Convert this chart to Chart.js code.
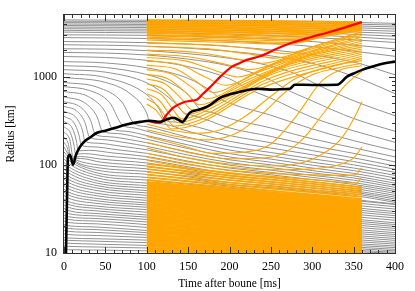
<!DOCTYPE html>
<html>
<head>
<meta charset="utf-8">
<script src="https://cdn.jsdelivr.net/npm/chart.js@4.4.1/dist/chart.umd.min.js"></script>
<style>
  body { margin: 0; background: #fff; }
  canvas { display: block; }
</style>
</head>
<body>
<canvas id="chart" width="415" height="291"></canvas>
<script>
// ---- axes ----
const xRange = [0, 400];
const xMajorStep = 50;
const xMinorStep = 10;
const yRange = [10, 5000];
const yTickValues = [10, 100, 1000];
const yMinorTicks = [20, 30, 40, 50, 60, 70, 80, 90, 200, 300, 400, 500, 600, 700, 800, 900, 2000, 3000, 4000];

// ---- shock radius (black) and outer shock (red) ----
const shockTimes = [2.4, 3.6, 4.8, 7.3, 10.9, 14.5, 19.3, 25, 31, 40, 50, 62, 74, 92, 104, 116, 125, 132, 138, 143, 152, 162, 173, 189, 200, 213, 233, 249, 262, 273, 279, 300, 330, 342, 350, 361, 373, 385, 400];
const shockRadius = [10, 40, 120, 130, 100, 130, 160, 185, 203, 231, 244, 263, 284, 307, 316, 307, 330, 342, 325, 307, 390, 420, 456, 577, 630, 675, 730, 712, 720, 730, 810, 805, 810, 1000, 1085, 1200, 1300, 1400, 1480];
const redTimes = [100, 108, 116, 124, 132, 144, 152, 161, 168, 176, 189, 203, 212, 221, 237, 257, 277, 298, 318, 340, 360];
const redRadius = [316, 305, 300, 370, 445, 510, 530, 550, 640, 750, 1000, 1300, 1420, 1550, 1700, 2070, 2450, 2800, 3150, 3620, 4150];

// ---- gray mass shells: outer group (times / radii columns) ----
const grayTopTimes = [0, 200, 300, 400];
const grayTopR0 = [3200, 3350, 3500, 3650, 3800, 3950, 4100, 4250, 4400];
const grayTopR200 = [3035, 3200, 3360, 3520, 3680, 3835, 3995, 4150, 4310];
const grayTopR300 = [2785, 2980, 3157, 3336, 3515, 3700, 3870, 4040, 4205];
const grayTopR400 = [2440, 2650, 2870, 3080, 3275, 3470, 3660, 3840, 4020];

// ---- gray mass shells: dense inner band ----
const grayBandTimes = [0, 5, 40, 100, 250, 400];
const grayBandR0 = [11, 12, 13, 14, 15, 16.5, 18, 19.5, 21, 23, 25, 27, 29.5, 32, 35, 38, 41, 45, 49, 53, 58, 63, 69, 75, 82, 90, 98, 107, 117, 128];
const grayBandR5 = [10.9, 11.9, 12.9, 13.9, 14.8, 16.2, 17.6, 19, 20.4, 22.2, 24, 25.8, 28, 30.3, 33, 35.7, 38.4, 42, 45.6, 49.2, 53.6, 58, 63.3, 68.6, 74.6, 81.5, 88.5, 96, 104.5, 114];
const grayBandR40 = [10.8, 11.7, 12.6, 13.6, 14.5, 15.8, 17.1, 18.4, 19.7, 21.4, 23, 24.6, 26.3, 28, 30, 32, 34, 36.5, 39, 41.5, 44.5, 47.5, 51, 54.5, 58, 62, 66, 71, 76, 81];
const grayBandR100 = [10.6, 11.4, 12.2, 13.1, 14, 15, 16, 17, 18, 19.5, 21, 22.5, 24, 25.5, 27, 29, 31, 33, 35, 37, 39.5, 42, 45, 48, 51, 54.5, 58, 62, 67, 72];
const grayBandR250 = [9.8, 10.3, 10.8, 11.4, 11.95, 12.6, 13.3, 14, 14.7, 15.7, 16.6, 17.7, 18.7, 19.8, 20.9, 22.2, 23.6, 25, 26.5, 27.9, 29.5, 31.4, 33.5, 35.7, 37.8, 40.1, 42.7, 45.6, 48.8, 50.9];
const grayBandR400 = [9, 9.3, 9.6, 9.9, 10.2, 10.6, 11, 11.5, 12, 12.6, 13.2, 13.9, 14.6, 15.4, 16.2, 17, 18, 19, 20, 21, 22, 23.5, 25, 26.5, 28, 29.5, 31.5, 33.5, 35.5, 36];

// ---- gray mass shells falling through the shock: [time ms, radius km] ----
const grayShells = [
  [[0, 140], [5, 124], [15, 104], [40, 87], [100, 78], [150, 69], [200, 60], [250, 55], [300, 50], [350, 45], [400, 37.5]],
  [[0, 160], [5.5, 130], [15, 108], [40, 93], [100, 84], [150, 73], [200, 63], [250, 58], [300, 52], [350, 47], [400, 39]],
  [[0, 180], [4, 156], [6, 130], [15, 113], [40, 100], [100, 90], [150, 78], [200, 67], [250, 61], [300, 55], [350, 49], [400, 41]],
  [[0, 205], [5, 176], [8.5, 120], [20, 118], [45, 107], [100, 97], [150, 83], [200, 71], [250, 64], [300, 58], [350, 51], [400, 43]],
  [[0, 235], [7, 193], [11, 122], [20, 124], [45, 116], [100, 105], [150, 89], [200, 75], [250, 68], [300, 61], [350, 54], [400, 45]],
  [[0, 270], [8, 228], [12, 168], [14, 132], [25, 134], [50, 126], [100, 114], [150, 95], [200, 80], [250, 72], [300, 64], [350, 57], [400, 47.5]],
  [[0, 310], [10, 260], [15, 186], [17, 144], [30, 146], [60, 136], [100, 124], [150, 102], [200, 86], [250, 77], [300, 68], [350, 60], [400, 50]],
  [[0, 355], [12, 300], [18, 220], [21, 166], [35, 160], [65, 148], [100, 135], [150, 110], [200, 92], [250, 82], [300, 72], [350, 63], [400, 52.5]],
  [[0, 405], [15, 340], [22, 251], [25.5, 184], [40, 176], [70, 162], [100, 148], [150, 119], [200, 99], [250, 87], [300, 76], [350, 67], [400, 55.5]],
  [[0, 460], [15, 410], [25, 308], [31, 205], [45, 194], [75, 178], [100, 162], [150, 129], [200, 106], [250, 93], [300, 81], [350, 71], [400, 58.5]],
  [[0, 520], [20, 450], [32, 322], [38, 220], [55, 208], [80, 193], [100, 178], [150, 140], [200, 114], [250, 100], [300, 86], [350, 75], [400, 62]],
  [[0, 590], [25, 505], [40, 350], [46.5, 240], [65, 226], [85, 210], [100, 195], [150, 153], [200, 123], [250, 107], [300, 92], [350, 80], [400, 66]],
  [[0, 680], [30, 590], [50, 395], [58.5, 256], [75, 240], [100, 215], [150, 168], [200, 134], [250, 116], [300, 99], [350, 86], [400, 71]],
  [[0, 770], [30, 700], [55, 510], [71, 280], [85, 262], [100, 240], [150, 185], [200, 147], [250, 126], [300, 107], [350, 92], [400, 76]],
  [[0, 860], [40, 760], [70, 515], [85, 292], [100, 270], [150, 205], [200, 162], [250, 138], [300, 117], [350, 100], [400, 82]],
  [[0, 980], [50, 860], [80, 640], [100, 385], [103, 315], [120, 290], [150, 240], [200, 185], [250, 155], [300, 130], [350, 109], [400, 89]],
  [[0, 1080], [50, 980], [100, 625], [115, 430], [122, 322], [135, 305], [150, 285], [200, 215], [250, 178], [300, 145], [350, 120], [400, 97]],
  [[0, 1200], [50, 1125], [100, 850], [130, 545], [145, 390], [152, 372], [170, 330], [200, 262], [250, 210], [300, 165], [350, 135], [400, 108]],
  [[0, 1330], [50, 1270], [100, 1055], [130, 835], [150, 625], [164, 430], [180, 390], [200, 335], [250, 262], [300, 197], [350, 156], [400, 123]],
  [[0, 1480], [50, 1430], [100, 1260], [150, 955], [180, 660], [188, 565], [200, 500], [250, 365], [300, 255], [350, 188], [400, 145]],
  [[0, 1690], [50, 1650], [100, 1530], [150, 1300], [200, 945], [220, 745], [226, 700], [250, 570], [300, 345], [350, 243], [400, 180]],
  [[0, 1880], [50, 1850], [100, 1760], [150, 1580], [200, 1315], [250, 912], [266, 740], [300, 530], [350, 335], [400, 240]],
  [[0, 2070], [50, 2050], [100, 1970], [200, 1615], [250, 1315], [280, 1075], [306, 810], [330, 640], [360, 490], [400, 360]],
  [[0, 2300], [100, 2215], [200, 1940], [250, 1720], [300, 1415], [346, 1040], [370, 850], [400, 640]],
  [[0, 2500], [100, 2430], [200, 2200], [300, 1775], [350, 1460], [370, 1300], [385, 1160], [400, 1050]],
  [[0, 2770], [100, 2710], [200, 2530], [300, 2200], [400, 1700]],
  [[0, 2980], [100, 2940], [200, 2790], [300, 2500], [400, 2060]]
];

// ---- orange tracers (start at 100 ms) ----
const orangeTop = [
  [[100, 4400], [200, 4340], [300, 4260], [360, 4200]],
  [[100, 4320], [200, 4250], [300, 4160], [355, 4090], [360, 4140]],
  [[100, 4250], [200, 4170], [300, 4060], [348, 3990], [360, 4120]],
  [[100, 4170], [200, 4090], [300, 3975], [350, 3890], [360, 4100]],
  [[100, 4100], [200, 4010], [300, 3890], [345, 3790], [360, 4080]],
  [[100, 4020], [200, 3930], [300, 3805], [343, 3705], [360, 4055]],
  [[100, 3950], [200, 3850], [300, 3720], [340, 3620], [360, 4030]],
  [[100, 3870], [200, 3770], [300, 3635], [337, 3550], [360, 4005]],
  [[100, 3800], [200, 3690], [300, 3550], [334, 3480], [360, 3980]],
  [[100, 3720], [200, 3610], [300, 3465], [331, 3405], [360, 3950]],
  [[100, 3650], [200, 3530], [300, 3380], [327, 3330], [360, 3920]],
  [[100, 3570], [200, 3455], [300, 3300], [324, 3255], [360, 3885]],
  [[100, 3500], [200, 3380], [300, 3220], [321, 3180], [360, 3850]],
  [[100, 3420], [200, 3300], [300, 3140], [317, 3110], [360, 3810]],
  [[100, 3350], [200, 3220], [300, 3060], [314, 3040], [360, 3770]],
  [[100, 3270], [200, 3140], [300, 2975], [310, 2960], [340, 3400], [360, 3725]],
  [[100, 3200], [200, 3060], [306, 2890], [335, 3280], [360, 3680]],
  [[100, 3100], [200, 2960], [301, 2805], [332, 3220], [360, 3630]],
  [[100, 3000], [200, 2860], [296, 2720], [330, 3150], [360, 3580]],
  [[100, 2900], [200, 2755], [290, 2625], [325, 3080], [360, 3525]],
  [[100, 2800], [200, 2650], [283, 2530], [320, 3000], [360, 3470]],
  [[100, 2700], [200, 2545], [277, 2435], [318, 2930], [360, 3410]],
  [[100, 2600], [200, 2440], [271, 2340], [315, 2850], [360, 3350]]
];
const orangeInfall = [
  [[100, 2400], [180, 2280], [240, 2000], [268, 1820], [310, 2350], [360, 3220]],
  [[100, 2200], [170, 2080], [225, 1800], [255, 1620], [300, 2150], [360, 3080]],
  [[100, 2000], [160, 1880], [210, 1580], [240, 1420], [290, 1950], [360, 2940]],
  [[100, 1800], [150, 1680], [195, 1380], [225, 1200], [280, 1750], [360, 2800]],
  [[100, 1650], [145, 1520], [180, 1200], [210, 990], [260, 1480], [320, 2150], [360, 2660]],
  [[100, 1500], [140, 1370], [170, 1000], [195, 800], [250, 1330], [310, 1950], [360, 2520]],
  [[100, 1350], [135, 1220], [160, 880], [180, 660], [230, 1080], [300, 1800], [360, 2390]],
  [[100, 1200], [130, 1070], [155, 750], [172, 560], [220, 900], [290, 1650], [360, 2270]],
  [[100, 1060], [125, 950], [148, 650], [163, 480], [210, 760], [280, 1500], [360, 2160]],
  [[100, 940], [122, 830], [142, 560], [155, 420], [200, 640], [270, 1350], [360, 2060]],
  [[100, 830], [120, 720], [137, 480], [148, 370], [190, 540], [260, 1200], [360, 1970]],
  [[100, 730], [118, 620], [132, 420], [142, 330], [180, 450], [250, 1050], [360, 1880]],
  [[100, 640], [115, 540], [127, 380], [137, 300], [175, 390], [245, 930], [360, 1790]],
  [[100, 560], [113, 470], [124, 340], [133, 275], [170, 340], [240, 820], [360, 1700]],
  [[100, 490], [112, 410], [122, 300], [130, 255], [165, 300], [235, 720], [360, 1610]]
];
const orangeRisers = [
  [[100, 290], [130, 247], [160, 228], [190, 252], [220, 360], [250, 600], [280, 950], [320, 1300], [360, 1520]],
  [[100, 250], [140, 207], [175, 192], [210, 232], [240, 380], [270, 700], [300, 1050], [330, 1250], [360, 1420]],
  [[100, 210], [140, 168], [180, 135], [220, 140], [250, 172], [280, 350], [312, 900], [335, 1200], [360, 1330]],
  [[100, 180], [150, 138], [200, 117], [250, 122], [285, 182], [315, 400], [340, 800], [360, 1150]],
  [[100, 155], [150, 120], [200, 102], [250, 97], [300, 116], [334, 193], [350, 330], [360, 520]],
  [[100, 135], [150, 108], [200, 94], [250, 88], [300, 90], [335, 102], [352, 125], [360, 160]],
  [[100, 122], [150, 100], [200, 87], [250, 80], [300, 77], [340, 76], [354, 78], [357, 88], [360, 92]],
  [[100, 112], [150, 92], [200, 80], [250, 74], [300, 68], [340, 63], [354, 62], [357, 68], [360, 72]]
];
const orangeBandTimes = [100, 230, 360];
const orangeBandStart = [10.5, 11.2, 12, 12.8, 13.7, 14.6, 15.6, 16.7, 17.8, 19, 20.3, 21.7, 23.2, 24.8, 26.5, 28.3, 30.2, 32.3, 34.5, 36.9, 39.4, 42, 45, 48, 51.5, 55, 59, 63, 67.5, 72, 77, 83, 89, 95, 102];
const orangeBandMid = [10.04, 10.6, 11.3, 12, 12.8, 13.5, 14.35, 15.2, 16.1, 17.1, 18.1, 19.3, 20.4, 21.7, 23, 24.4, 25.8, 27.4, 29.1, 30.9, 32.7, 34.7, 36.8, 39, 41.5, 44, 46.8, 49.6, 52.7, 55.9, 59.3, 63.2, 67.1, 71.1, 75.4];
const orangeBandEnd = [9.6, 10.1, 10.7, 11.3, 11.9, 12.5, 13.2, 13.9, 14.6, 15.4, 16.2, 17.1, 18, 19, 20, 21, 22.1, 23.3, 24.5, 25.8, 27.2, 28.6, 30.1, 31.7, 33.4, 35.2, 37.1, 39.1, 41.2, 43.4, 45.7, 48.1, 50.6, 53.2, 55.8];

// ---- build datasets ----
const GRAY = 'rgb(145,145,145)';
const ORANGE = 'rgb(255,165,0)';

const toPoints = list => list.map(([x, y]) => ({ x, y }));
const fromColumns = (times, cols) =>
  cols[0].map((_, i) => times.map((t, k) => ({ x: t, y: cols[k][i] })));
const line = (data, color, width, order) => ({
  data, borderColor: color, borderWidth: width, order,
  pointRadius: 0, fill: false, cubicInterpolationMode: 'monotone'
});

const datasets = [
  line(shockTimes.map((t, i) => ({ x: t, y: shockRadius[i] })), '#000', 2.6, 0),
  line(redTimes.map((t, i) => ({ x: t, y: redRadius[i] })), 'rgb(255,0,0)', 2.2, 1)
];
orangeTop.concat(orangeInfall, orangeRisers).forEach(s => datasets.push(line(toPoints(s), ORANGE, 1.1, 2)));
// the inner band is solid orange in the original
fromColumns(orangeBandTimes, [orangeBandStart, orangeBandMid, orangeBandEnd])
  .forEach((d, i) => datasets.push(line(d, ORANGE, i < 28 ? 3 : 1.6, 2)));
grayShells.forEach(s => datasets.push(line(toPoints(s), GRAY, 1, 3)));
fromColumns(grayTopTimes, [grayTopR0, grayTopR200, grayTopR300, grayTopR400])
  .forEach(d => datasets.push(line(d, GRAY, 1, 3)));
fromColumns(grayBandTimes, [grayBandR0, grayBandR5, grayBandR40, grayBandR100, grayBandR250, grayBandR400])
  .forEach(d => datasets.push(line(d, GRAY, 1, 3)));

// frame with inward ticks on all four sides
const frameAndTicks = {
  id: 'frameAndTicks',
  afterDatasetsDraw(chart) {
    const { ctx, chartArea: a, scales: { x, y } } = chart;
    ctx.save();
    ctx.strokeStyle = '#333';
    ctx.lineWidth = 1;
    ctx.beginPath();
    for (let t = xRange[0]; t <= xRange[1]; t += xMinorStep) {
      const px = Math.round(x.getPixelForValue(t)) + 0.5;
      const len = t % xMajorStep === 0 ? 6 : 3;
      ctx.moveTo(px, a.bottom); ctx.lineTo(px, a.bottom - len);
      ctx.moveTo(px, a.top); ctx.lineTo(px, a.top + len);
    }
    const yTick = (v, len) => {
      const py = Math.round(y.getPixelForValue(v)) + 0.5;
      ctx.moveTo(a.left, py); ctx.lineTo(a.left + len, py);
      ctx.moveTo(a.right, py); ctx.lineTo(a.right - len, py);
    };
    yTickValues.forEach(v => yTick(v, 6));
    yMinorTicks.forEach(v => yTick(v, 3));
    ctx.stroke();
    ctx.strokeRect(a.left - 0.5, a.top - 0.5, a.right - a.left + 1, a.bottom - a.top + 1);
    ctx.restore();
  }
};

const serif = { family: '"Liberation Serif", "DejaVu Serif", serif', size: 12 };
const titleFont = { family: '"Liberation Serif", "DejaVu Serif", serif', size: 11.5 };

new Chart(document.getElementById('chart'), {
  type: 'line',
  data: { datasets },
  options: {
    responsive: false,
    animation: false,
    devicePixelRatio: 1,
    events: [],
    parsing: false,
    layout: { padding: { top: 15, right: 20, left: 0, bottom: 0 } },
    plugins: { legend: { display: false }, tooltip: { enabled: false } },
    scales: {
      x: {
        type: 'linear', min: xRange[0], max: xRange[1],
        grid: { display: false, drawTicks: false },
        border: { display: false },
        ticks: { stepSize: xMajorStep, font: serif, color: '#000', padding: 7, maxRotation: 0 },
        title: { display: true, text: 'Time after boune [ms]', font: titleFont, color: '#000', padding: { top: 0, bottom: 0 } },
        afterFit: s => { s.height = 38; }
      },
      y: {
        type: 'logarithmic', min: yRange[0], max: yRange[1],
        grid: { display: false, drawTicks: false },
        border: { display: false },
        afterBuildTicks: s => { s.ticks = yTickValues.map(v => ({ value: v })); },
        ticks: { font: serif, color: '#000', padding: 7, callback: v => String(v) },
        title: { display: true, text: 'Radius [km]', font: titleFont, color: '#000', padding: { top: 4, bottom: 0 } },
        afterFit: s => { s.width = 64; }
      }
    }
  },
  plugins: [frameAndTicks]
});
</script>
</body>
</html>
